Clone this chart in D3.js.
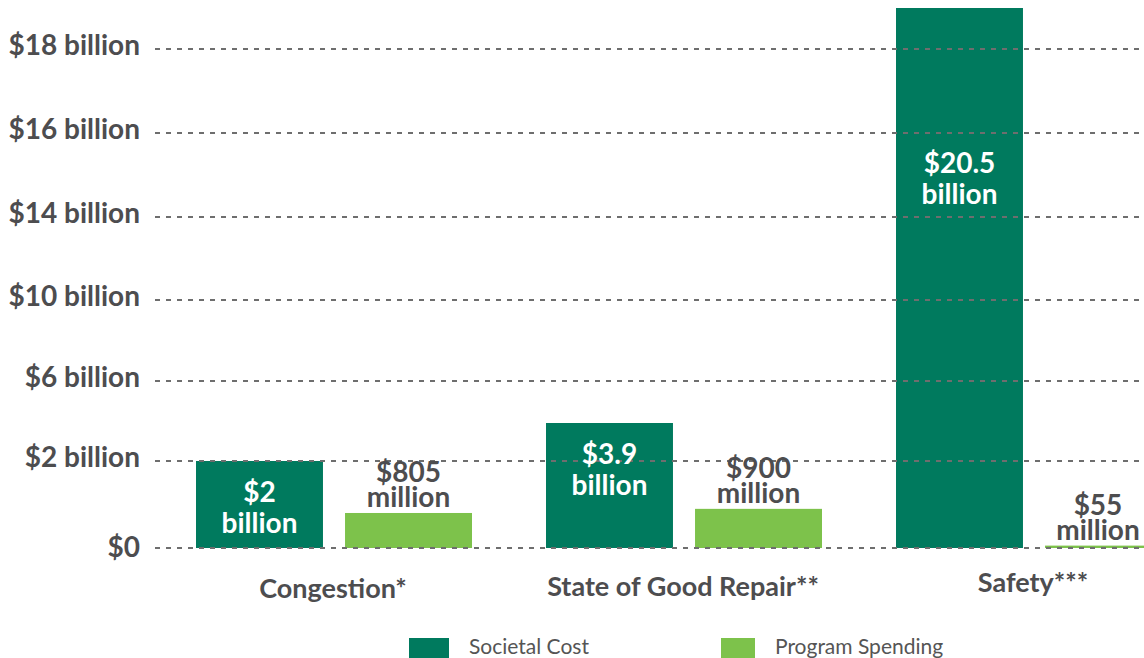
<!DOCTYPE html>
<html><head><meta charset="utf-8">
<script src="https://cdn.jsdelivr.net/npm/d3@7"></script>
<style>
html,body{margin:0;padding:0;background:#fff;}
svg{display:block;font-family:Lato, "Open Sans", sans-serif;}
</style></head>
<body>
<svg id="chart" width="1144" height="658"></svg>
<script>
const categories = ["Congestion*", "State of Good Repair**", "Safety***"];
const seriesNames = ["Societal Cost", "Program Spending"];
const societalCost = [2, 3.9, 20.5];          // billions
const programSpending = [0.805, 0.9, 0.055];  // billions
const societalLabels = [["$2","billion"],["$3.9","billion"],["$20.5","billion"]];
const programLabels = [["$805","million"],["$900","million"],["$55","million"]];
const tickValues = [0, 2, 6, 10, 14, 16, 18];
const tickLabels = ["$0","$2 billion","$6 billion","$10 billion","$14 billion","$16 billion","$18 billion"];

const colors = {"Societal Cost":"#007A5E","Program Spending":"#7DC24B"};
const textColor = "#4D4D4F";
const W = 1144;

const svg = d3.select("#chart");

// Axis ticks are evenly spaced in the source though their values are not: piecewise scale
const y = d3.scaleLinear()
  .domain(tickValues)
  .range([548, 461, 381, 300, 217, 133, 49]);

const x0 = d3.scaleBand().domain(categories).range([158, 1208]).padding(0);
const x1 = d3.scaleBand().domain(seriesNames).range([-137, 139]).paddingInner(0.148).paddingOuter(0);

const data = categories.map((c,i)=>({
  cat:c,
  vals:[
    {s:"Societal Cost", v:societalCost[i], lab:societalLabels[i]},
    {s:"Program Spending", v:programSpending[i], lab:programLabels[i]}
  ]
}));

svg.append("defs").append("clipPath").attr("id","plotclip")
  .append("rect").attr("x",0).attr("y",8).attr("width",W).attr("height",560);

// bars
const groups = svg.append("g").attr("clip-path","url(#plotclip)")
  .selectAll("g.grp").data(data).join("g")
  .attr("transform", d=>`translate(${x0(d.cat)+x0.bandwidth()/2},0)`);

groups.selectAll("rect").data(d=>d.vals).join("rect")
  .attr("x", d=>x1(d.s))
  .attr("width", x1.bandwidth())
  .attr("y", d=>y(d.v))
  .attr("height", d=>y(0)-y(d.v))
  .attr("fill", d=>colors[d.s]);

// gridlines (drawn above bars)
const grid = svg.append("g");
grid.selectAll("line").data(tickValues).join("line")
  .attr("x1", 155).attr("x2", W)
  .attr("y1", d=>y(d)).attr("y2", d=>y(d))
  .attr("stroke", "#6e6e6e")
  .attr("stroke-width", 2)
  .attr("stroke-dasharray", "5,6");

// y tick labels
svg.append("g").selectAll("text").data(tickValues).join("text")
  .attr("x", 140)
  .attr("y", (d,i)=>y(d)+ (i===0?9:6))
  .attr("text-anchor","end")
  .attr("font-size", 28)
  .attr("font-weight", 700)
  .attr("fill", textColor)
  .text((d,i)=>tickLabels[i]);

// value labels
const lblG = svg.append("g").selectAll("g").data(data).join("g")
  .attr("transform", d=>`translate(${x0(d.cat)+x0.bandwidth()/2},0)`);

lblG.each(function(d){
  const g = d3.select(this);
  const gx = x0(d.cat)+x0.bandwidth()/2;
  // societal (inside bar, white)
  const sc = d.vals[0];
  const base = y(sc.v) < 8 ? 173 : y(sc.v) + 41;
  const cx = x1(sc.s) + x1.bandwidth()/2;
  sc.lab.forEach((t,k)=>{
    g.append("text").attr("x",cx).attr("y",base + k*31)
      .attr("text-anchor","middle").attr("font-size",28).attr("font-weight",700)
      .attr("fill","#fff").text(t);
  });
  // program (above bar, grey)
  const ps = d.vals[1];
  let px = x1(ps.s) + x1.bandwidth()/2;
  px = Math.min(px, W - 46 - gx);
  const pb = y(ps.v) - 6;
  ps.lab.forEach((t,k)=>{
    g.append("text").attr("x",px).attr("y",pb - (1-k)*25)
      .attr("text-anchor","middle").attr("font-size",28).attr("font-weight",700)
      .attr("fill",textColor).text(t);
  });
});

// category labels
svg.append("g").selectAll("text").data(categories).join("text")
  .attr("x", d=>x0(d)+x0.bandwidth()/2)
  .attr("y", (d,i)=>[598,596,592][i])
  .attr("text-anchor","middle")
  .attr("font-size", 27)
  .attr("font-weight", 700)
  .attr("fill", textColor)
  .text(d=>d);

// legend
const legX = [409, 721];
const leg = svg.append("g").selectAll("g").data(seriesNames).join("g")
  .attr("transform",(d,i)=>`translate(${legX[i]},0)`);
leg.append("rect").attr("x",0).attr("y",638).attr("width",(d,i)=>i===0?40:34).attr("height",24)
  .attr("fill", d=>colors[d]);
leg.append("text").attr("x",(d,i)=>i===0?60:54).attr("y",654)
  .attr("font-size",21).attr("fill","#555").text(d=>d);
</script>
</body></html>
